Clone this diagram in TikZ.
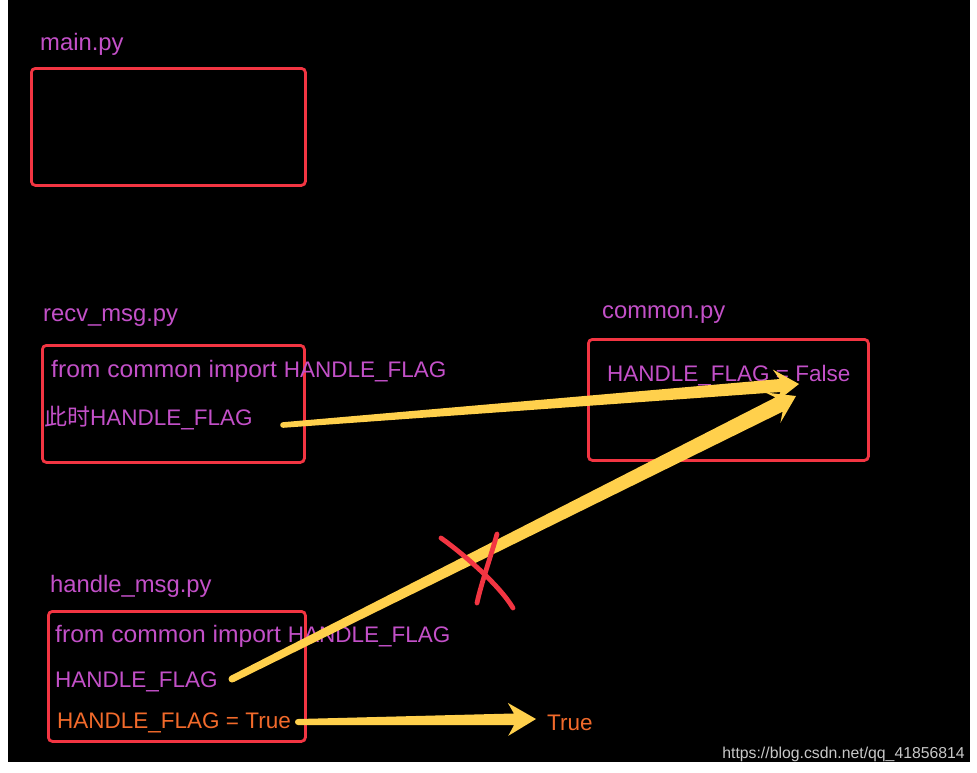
\documentclass[tikz,border=0pt]{standalone}
\usepackage{fontspec}
\setmainfont{Liberation Sans}
\newfontfamily\cjk{Noto Sans CJK SC}
\usetikzlibrary{calc}
\definecolor{txtpurple}{HTML}{C350C8}
\definecolor{boxred}{HTML}{F23542}
\definecolor{arryellow}{HTML}{FFD04C}
\definecolor{txtorange}{HTML}{F26A2B}
\definecolor{wmgray}{HTML}{C8C8C8}
\newcommand\lowfont{\fontsize{23.8}{28}\selectfont}
\newcommand\fromimport{{\lowfont\scalebox{1.035}[1]{from common import }}}
\tikzset{
  filebox/.style={draw=boxred, line width=2.8pt, rounded corners=4pt, inner sep=0pt, anchor=north west},
  codetext/.style={anchor=base west, inner sep=0pt, text=txtpurple, font=\fontsize{22.5}{27}\selectfont},
  labeltext/.style={codetext, font=\lowfont},
  hottext/.style={codetext, text=txtorange},
  crossstroke/.style={draw=boxred, line width=4.8pt, line cap=round},
}
% start, end, tail half width, shaft half width, head length, barb back length, head half width
\newcommand\fatarrow[7]{%
  \path ($(#2)!#5!(#1)$) coordinate (hb) ($(#2)!#6!(#1)$) coordinate (hbb);
  \fill[arryellow] (#1) circle[radius=#3];
  \fill[arryellow]
    ($(#1)!#3!90:(#2)$) -- ($(hb)!#4!90:(#2)$) -- ($(hbb)!#7!90:(#2)$) -- (#2)
    -- ($(hbb)!#7!-90:(#2)$) -- ($(hb)!#4!-90:(#2)$) -- ($(#1)!#3!-90:(#2)$) -- cycle;
}
\begin{document}
\begin{tikzpicture}[x=1pt,y=-1pt]
\useasboundingbox (0,0) rectangle (977,772);
\fill[white] (0,0) rectangle (977,772);
\fill[black] (8,0) rectangle (970,762);

% file boxes
\node[filebox, minimum width=274pt, minimum height=117pt] (mainbox) at (30,67) {};
\node[filebox, minimum width=262pt, minimum height=117pt] (recvbox) at (41,344) {};
\node[filebox, minimum width=280pt, minimum height=121pt] (commonbox) at (587,338) {};
\node[filebox, minimum width=257pt, minimum height=130pt] (handlebox) at (47,610) {};

% labels
\node[labeltext] (lmain) at (40,50) {main.py};
\node[labeltext] (lrecv) at (43,321) {recv\_msg.py};
\node[labeltext] (lcommon) at (602,318) {common.py};
\node[labeltext] (lhandle) at (50,592) {handle\_msg.py};

% contents
\node[codetext] (r1) at (51,377) {\fromimport HANDLE\_FLAG};
\node[codetext] (r2) at (44,425) {{\cjk\fontsize{23}{27}\selectfont 此时}HANDLE\_FLAG};
\node[codetext] (c1) at (607,381) {HANDLE\_FLAG = False};
\node[codetext] (h1) at (55,642) {\fromimport HANDLE\_FLAG};
\node[codetext] (h2) at (55,687) {HANDLE\_FLAG};
\node[hottext] (h3) at (57,728) {HANDLE\_FLAG = True};
\node[hottext] (tru) at (547,730) {True};

% arrows
\coordinate (a1s) at (283,425);
\coordinate (a1e) at (799,384);
\coordinate (a2s) at (232,679);
\coordinate (a2e) at (796,396);
\coordinate (a3s) at (298,722);
\coordinate (a3e) at (536,719);
\fatarrow{a1s}{a1e}{2.8pt}{6.5pt}{19pt}{25pt}{16.5pt}
\fatarrow{a2s}{a2e}{3.5pt}{8pt}{19pt}{26pt}{17pt}
\fatarrow{a3s}{a3e}{3pt}{5.8pt}{22pt}{28pt}{16.5pt}

% red cross
\draw[crossstroke] (441,538) .. controls (466,556) and (500,586) .. (513,608);
\draw[crossstroke] (497,534) .. controls (491,556) and (481,584) .. (477,603);

% watermark
\node[anchor=base east, inner sep=0pt, text=wmgray, font=\fontsize{15.8}{18}\selectfont] (wm) at (965,758) {https://blog.csdn.net/qq\_41856814};
\end{tikzpicture}
\end{document}
